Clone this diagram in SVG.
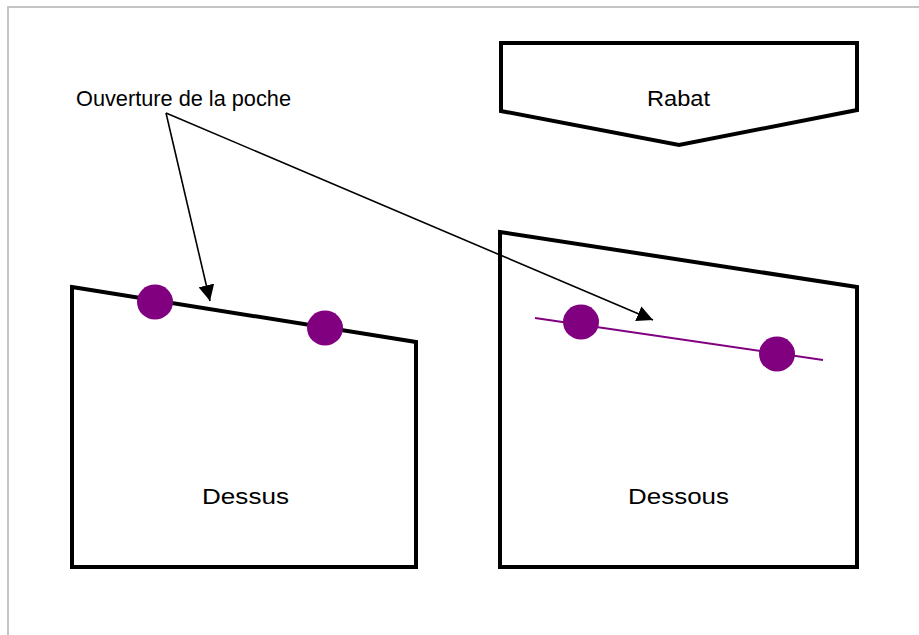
<svg xmlns="http://www.w3.org/2000/svg" width="919" height="635" viewBox="0 0 919 635">
<defs>
<style>
.shape{fill:#fff;stroke:#000;stroke-width:4;stroke-linejoin:miter}
.lbl{font-family:"Liberation Sans",Arial,sans-serif;font-size:22px;fill:#000}
.dot{fill:#800080}
.conn{stroke:#000;stroke-width:1.6;fill:none}
</style>
<marker id="ah" viewBox="0 0 10 10" refX="10" refY="5" markerWidth="16" markerHeight="16" markerUnits="userSpaceOnUse" orient="auto">
<path d="M0,0 L10,5 L0,10 z" fill="#000"/>
</marker>
</defs>
<rect x="0" y="0" width="919" height="635" fill="#fff"/>
<path d="M8,635 V7 H919" fill="none" stroke="#c4c4c4" stroke-width="2"/>
<g id="rabat">
<polygon class="shape" points="501,43 857,43 857,110 679,145 501,111"/>
<text class="lbl" x="647" y="106" textLength="63" lengthAdjust="spacingAndGlyphs">Rabat</text>
</g>
<g id="dessus">
<polygon class="shape" points="72,287 416,342 416,567 72,567"/>
<ellipse class="dot" cx="155" cy="302" rx="18" ry="17.5"/>
<ellipse class="dot" cx="325" cy="328" rx="18" ry="17.5"/>
<text class="lbl" x="202" y="504" textLength="87" lengthAdjust="spacingAndGlyphs">Dessus</text>
</g>
<g id="dessous">
<polygon class="shape" points="500,232 857,287 857,567 500,567"/>
<line x1="535" y1="318" x2="823" y2="360" stroke="#800080" stroke-width="2"/>
<ellipse class="dot" cx="581" cy="322" rx="18" ry="17.5"/>
<ellipse class="dot" cx="777" cy="354" rx="18" ry="17.5"/>
<text class="lbl" x="628" y="504" textLength="101" lengthAdjust="spacingAndGlyphs">Dessous</text>
</g>
<g id="label">
<text class="lbl" x="76" y="106" textLength="215" lengthAdjust="spacingAndGlyphs" font-size="20">Ouverture de la poche</text>
</g>
<g id="connectors">
<line class="conn" x1="166" y1="113" x2="210" y2="301" marker-end="url(#ah)"/>
<line class="conn" x1="166" y1="113" x2="653" y2="320" marker-end="url(#ah)"/>
</g>
</svg>
